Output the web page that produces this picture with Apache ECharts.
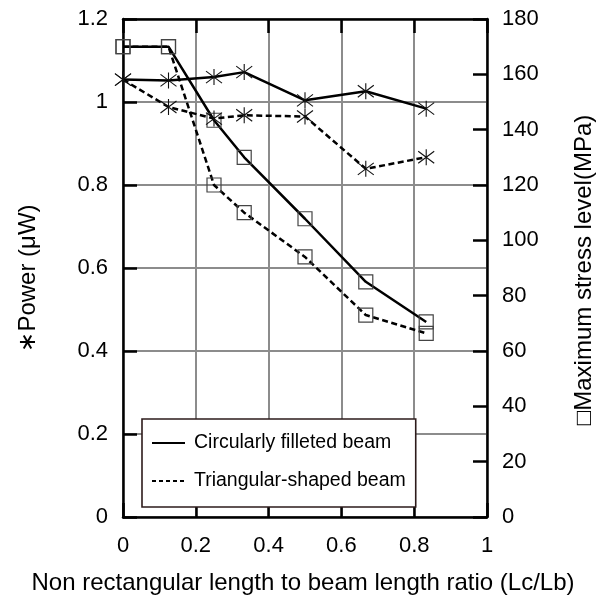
<!DOCTYPE html>
<html>
<head>
<meta charset="utf-8">
<script src="https://cdn.jsdelivr.net/npm/echarts@6/dist/echarts.min.js"></script>
<style>
  html, body { margin: 0; padding: 0; background: #fff; }
  #main { width: 603px; height: 602px; }
</style>
</head>
<body>
<div id="main"></div>
<script>
// x = Lc/Lb ratio
const ratio = [0, 0.125, 0.25, 0.333, 0.5, 0.667, 0.833]
// power (uW), star markers, left axis
const powerCircular = [1.054, 1.052, 1.06, 1.072, 1.004, 1.026, 0.984]
const powerTriangular = [1.054, 0.988, 0.96, 0.968, 0.965, 0.839, 0.867]
// max stress (MPa), square markers, right axis
const stressCircular = [170, 170, 143.4, 130, 107.8, 85, 70.5]
const stressTriangular = [170, 170, 120, 110, 94, 73, 66.4]

const legendNames = ['Circularly filleted beam', 'Triangular-shaped beam']

const FONT = '"Liberation Sans", Arial, sans-serif'
const starPath = 'path://M8 0L8 16M1 2L15 14M1 14L15 2'

function pairs (ys) {
  return ratio.map((x, i) => [x, ys[i]])
}

function lineSeries (name, ys, yIdx, dashed, star) {
  return {
    name: name,
    type: 'line',
    yAxisIndex: yIdx,
    data: pairs(ys),
    symbol: star ? starPath : 'rect',
    symbolSize: star ? 16 : 14,
    z: star ? 4 : 3,
    lineStyle: {
      color: '#000',
      width: 2.5,
      type: dashed ? [6, 3.5] : 'solid'
    },
    itemStyle: {
      color: 'rgba(0,0,0,0)',
      borderColor: star ? '#111' : '#444',
      borderWidth: star ? 1.1 : 1.2
    },
    emphasis: { disabled: true },
    animation: false
  }
}

// axis look shared by all four sides
function frame (extra) {
  return Object.assign({
    axisLine: { show: true, onZero: false, lineStyle: { color: '#000', width: 2.5 } },
    axisTick: { show: true, inside: true, length: 14, lineStyle: { color: '#000', width: 2.5 } }
  }, extra)
}

const chart = echarts.init(document.getElementById('main'))
chart.setOption({
  animation: false,
  textStyle: { fontFamily: FONT },
  grid: {
    left: 123,
    right: 116,
    top: 19,
    bottom: 85,
    containLabel: false,
    outerBoundsMode: 'none'
  },
  legend: {
    data: legendNames,
    orient: 'vertical',
    left: 142,
    top: 419,
    padding: [14, 10, 16, 9],
    itemGap: 18,
    itemWidth: 33,
    itemHeight: 20,
    backgroundColor: '#fff',
    borderColor: '#2d1b1b',
    borderWidth: 1.6,
    borderRadius: 0,
    selectedMode: false,
    itemStyle: { opacity: 0 },
    textStyle: {
      fontFamily: FONT,
      fontSize: 19.5,
      color: '#000',
      lineHeight: 20,
      padding: [0, 0, 0, 4]
    }
  },
  xAxis: [frame({
    type: 'value',
    min: 0,
    max: 1,
    interval: 0.2,
    position: 'bottom',
    axisLabel: { margin: 18, color: '#000', fontSize: 22, fontFamily: FONT },
    splitLine: { show: true, lineStyle: { color: '#8c8c8c', width: 2 } }
  }), frame({
    type: 'value',
    min: 0,
    max: 1,
    interval: 0.2,
    position: 'top',
    axisLabel: { show: false },
    splitLine: { show: false }
  })],
  yAxis: [frame({
    type: 'value',
    min: 0,
    max: 1.2,
    interval: 0.2,
    position: 'left',
    axisLabel: { margin: 15, color: '#000', fontSize: 22, fontFamily: FONT },
    splitLine: { show: true, lineStyle: { color: '#8c8c8c', width: 2 } }
  }), frame({
    type: 'value',
    min: 0,
    max: 180,
    interval: 20,
    position: 'right',
    axisLabel: { margin: 15, color: '#000', fontSize: 22, fontFamily: FONT },
    splitLine: { show: false }
  })],
  graphic: [{
    type: 'text',
    x: 28,
    y: 278,
    rotation: Math.PI / 2,
    style: {
      text: '\u2217Power (\u03bcW)',
      font: '24px ' + FONT,
      fill: '#000',
      align: 'center',
      verticalAlign: 'middle'
    }
  }, {
    type: 'text',
    x: 584,
    y: 270,
    rotation: Math.PI / 2,
    style: {
      text: '\u25a1Maximum stress level(MPa)',
      font: '24px ' + FONT,
      fill: '#000',
      align: 'center',
      verticalAlign: 'middle'
    }
  }, {
    type: 'text',
    x: 303,
    y: 583,
    style: {
      text: 'Non rectangular length to beam length ratio (Lc/Lb)',
      font: '24px ' + FONT,
      fill: '#000',
      align: 'center',
      verticalAlign: 'middle'
    }
  }],
  series: [
    // legend-only entries
    { name: legendNames[0], type: 'line', data: [], symbol: 'none', itemStyle: { color: '#000' }, lineStyle: { color: '#000', width: 2 } },
    { name: legendNames[1], type: 'line', data: [], symbol: 'none', itemStyle: { color: '#000' }, lineStyle: { color: '#000', width: 2, type: [4, 3] } },
    lineSeries('power circular', powerCircular, 0, false, true),
    lineSeries('power triangular', powerTriangular, 0, true, true),
    lineSeries('stress circular', stressCircular, 1, false, false),
    lineSeries('stress triangular', stressTriangular, 1, true, false)
  ]
})
</script>
</body>
</html>
